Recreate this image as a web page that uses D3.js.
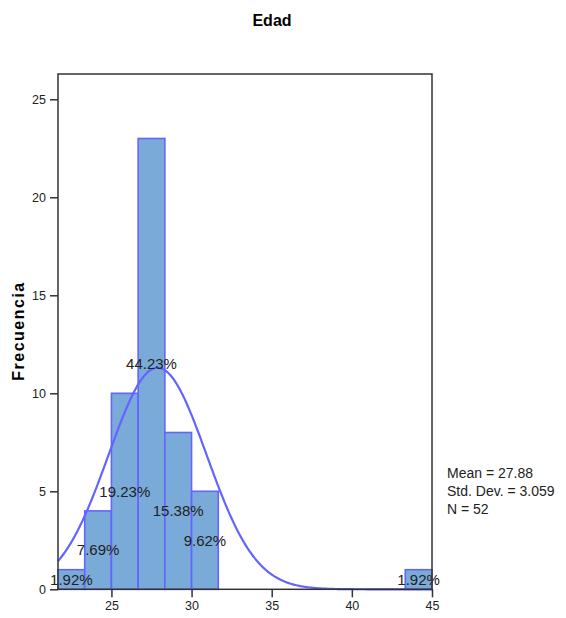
<!DOCTYPE html>
<html><head><meta charset="utf-8">
<script src="https://cdn.jsdelivr.net/npm/d3@7"></script>
<style>body{margin:0;background:#fff}svg{display:block;font-family:"Liberation Sans",Arial,sans-serif}</style>
</head><body>
<script>
const binStart = 21.6667;
const binWidth = 5/3;
const counts = [1, 4, 10, 23, 8, 5, 0, 0, 0, 0, 0, 0, 0, 1];
const percentLabels = ["1.92%", "7.69%", "19.23%", "44.23%", "15.38%", "9.62%", "", "", "", "", "", "", "", "1.92%"];
const xTicks = [25, 30, 35, 40, 45];
const yTicks = [0, 5, 10, 15, 20, 25];
const meanVal = 27.88, sdVal = 3.059, nVal = 52;
const statLines = ["Mean = 27.88", "Std. Dev. = 3.059", "N = 52"];
const titleText = "Edad";
const yLabelText = "Frecuencia";

(function(){
const W = 566, H = 618;
const svg = d3.select("body").append("svg").attr("width", W).attr("height", H);
const pL = 58, pR = 432, pT = 74, pB = 589.3;
const x = d3.scaleLinear().domain([binStart, 45]).range([pL, pR]);
const y = d3.scaleLinear().domain([0, 26.29]).range([pB, pT]);

const fill = "#7aaad8", stroke = "#6464ff";

const bars = counts.map((c, i) => ({c, x0: binStart + i*binWidth, x1: binStart + (i+1)*binWidth, lab: percentLabels[i]}));
svg.append("g").selectAll("rect").data(bars.filter(b => b.c > 0)).join("rect")
  .attr("x", d => x(d.x0)).attr("width", d => x(d.x1) - x(d.x0))
  .attr("y", d => y(d.c)).attr("height", d => y(0) - y(d.c))
  .attr("fill", fill).attr("stroke", stroke).attr("stroke-width", 1.6);

const pts = d3.range(0, 401).map(i => {
  const xv = binStart + (45 - binStart) * i / 400;
  const z = (xv - meanVal) / sdVal;
  return [xv, nVal * binWidth / (sdVal * Math.sqrt(2*Math.PI)) * Math.exp(-z*z/2)];
});
svg.append("path").datum(pts)
  .attr("d", d3.line().x(d => x(d[0])).y(d => y(d[1])))
  .attr("fill", "none").attr("stroke", stroke).attr("stroke-width", 2.2);

svg.append("g").selectAll("text").data(bars.filter(b => b.lab)).join("text")
  .attr("x", d => x((d.x0 + d.x1)/2)).attr("y", d => y(d.c/2))
  .attr("dy", "0.35em").attr("text-anchor", "middle")
  .attr("font-size", 15).attr("fill", "#222").text(d => d.lab);

svg.append("rect").attr("x", pL).attr("y", pT).attr("width", pR-pL).attr("height", pB-pT)
  .attr("fill", "none").attr("stroke", "#333").attr("stroke-width", 1.5);

const xAxis = svg.append("g").attr("transform", `translate(0,${pB})`)
  .call(d3.axisBottom(x).tickValues(xTicks).tickSize(8).tickPadding(4).tickFormat(d3.format("d")));
const yAxis = svg.append("g").attr("transform", `translate(${pL},0)`)
  .call(d3.axisLeft(y).tickValues(yTicks).tickSize(8).tickPadding(4).tickFormat(d3.format("d")));
[xAxis, yAxis].forEach(a => {
  a.select(".domain").remove();
  a.selectAll("line").attr("stroke", "#333").attr("stroke-width", 1.5);
  a.selectAll("text").attr("font-size", 12.5).attr("fill", "#222").attr("font-family", "Liberation Sans, Arial, sans-serif");
});

svg.append("text").attr("x", 272).attr("y", 26).attr("text-anchor", "middle")
  .attr("font-size", 16).attr("font-weight", "bold").text(titleText);
svg.append("text").attr("transform", "translate(24,331) rotate(-90)").attr("text-anchor", "middle")
  .attr("font-size", 16).attr("font-weight", "bold").attr("letter-spacing", 1.5).text(yLabelText);

svg.append("g").selectAll("text").data(statLines).join("text")
  .attr("x", 447).attr("y", (d, i) => 478 + i*18)
  .attr("font-size", 14).attr("fill", "#222").text(d => d);
})();
</script>
</body></html>
